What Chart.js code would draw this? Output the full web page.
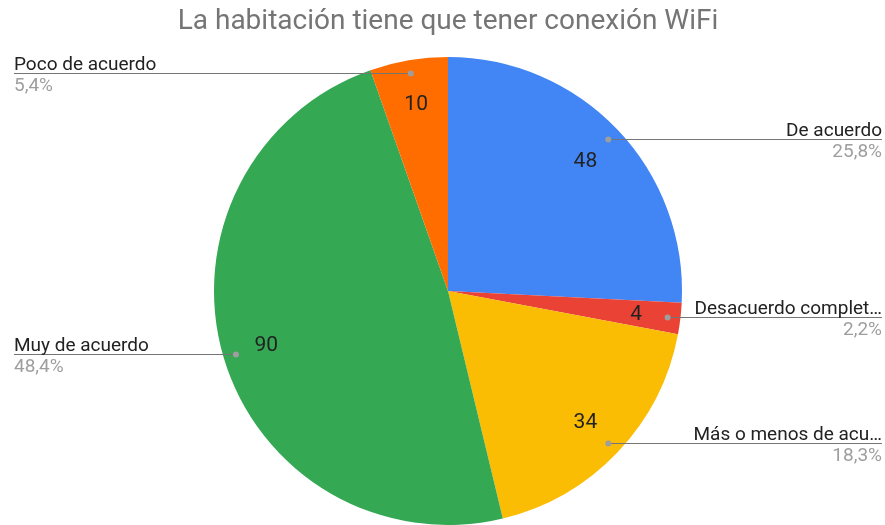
<!DOCTYPE html>
<html>
<head>
<meta charset="utf-8">
<script src="https://cdn.jsdelivr.net/npm/chart.js@4"></script>
<style>
  html, body { margin: 0; padding: 0; background: #fff; }
  #wrap { width: 885px; height: 525px; }
</style>
</head>
<body>
<div id="wrap"><canvas id="chart" width="885" height="525"></canvas></div>
<script>
const categories = ['De acuerdo', 'Desacuerdo completamente', 'Más o menos de acuerdo', 'Muy de acuerdo', 'Poco de acuerdo'];
const shortLabels = ['De acuerdo', 'Desacuerdo complet…', 'Más o menos de acu…', 'Muy de acuerdo', 'Poco de acuerdo'];
const values = [48, 4, 34, 90, 10];
const colors = ['#4285f4', '#ea4335', '#fbbc04', '#34a853', '#ff6d01'];

const FONT = 'Roboto, "Noto Sans", Arial, sans-serif';

function pctText(v, total) {
  return (v / total * 100).toFixed(1).replace('.', ',') + '%';
}

const labelPlugin = {
  id: 'sliceLabels',
  afterDatasetsDraw(chart) {
    const ctx = chart.ctx;
    const meta = chart.getDatasetMeta(0);
    const total = values.reduce((a, b) => a + b, 0);
    const W = chart.width;
    ctx.save();
    meta.data.forEach((arc, i) => {
      const p = arc.getProps(['x', 'y', 'startAngle', 'endAngle', 'outerRadius'], true);
      const mid = (p.startAngle + p.endAngle) / 2;
      const r = p.outerRadius;

      // value inside slice
      const vx = p.x + Math.cos(mid) * r * 0.81;
      const vy = p.y + Math.sin(mid) * r * 0.81;
      ctx.fillStyle = '#222';
      ctx.font = '21px ' + FONT;
      ctx.textAlign = 'center';
      ctx.textBaseline = 'middle';
      ctx.fillText(String(values[i]), vx, vy + 1);

      // leader line + dot
      const dx = p.x + Math.cos(mid) * r * 0.945;
      const dy = Math.round(p.y + Math.sin(mid) * r * 0.945) + 0.5;
      const right = Math.cos(mid) > 0;
      const ex = right ? W - 3 : 14;
      ctx.strokeStyle = '#757575';
      ctx.lineWidth = 1;
      ctx.beginPath();
      ctx.moveTo(dx, dy);
      ctx.lineTo(ex, dy);
      ctx.stroke();
      ctx.fillStyle = '#9e9e9e';
      ctx.beginPath();
      ctx.arc(dx, dy, 3, 0, Math.PI * 2);
      ctx.fill();

      ctx.textAlign = right ? 'right' : 'left';
      ctx.font = '19px ' + FONT;
      ctx.fillStyle = '#222';
      ctx.textBaseline = 'alphabetic';
      ctx.fillText(shortLabels[i], ex, dy - 4);
      ctx.fillStyle = '#9e9e9e';
      ctx.textBaseline = 'top';
      ctx.fillText(pctText(values[i], total), ex, dy + 3);
    });
    ctx.restore();
  }
};

new Chart(document.getElementById('chart'), {
  type: 'pie',
  data: {
    labels: categories,
    datasets: [{
      data: values,
      backgroundColor: colors,
      borderWidth: 0
    }]
  },
  options: {
    responsive: false,
    animation: false,
    layout: { padding: { left: 11, right: 0, top: 0, bottom: 0 } },
    plugins: {
      legend: { display: false },
      tooltip: { enabled: false },
      title: {
        display: true,
        text: 'La habitación tiene que tener conexión WiFi',
        color: '#757575',
        font: { family: FONT, size: 28, weight: 'normal', lineHeight: 1.2 },
        padding: { top: 5, bottom: 18.4 }
      }
    }
  },
  plugins: [labelPlugin]
});
</script>
</body>
</html>
